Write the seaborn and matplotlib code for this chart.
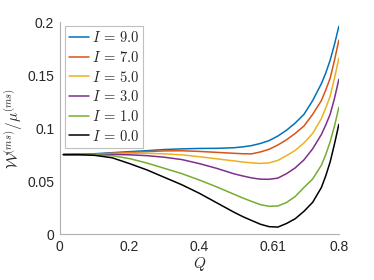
import numpy as np
import pandas as pd
import seaborn as sns
import matplotlib.pyplot as plt

# Q grid (denser near the minima and the steep end)
Q = [0.01, 0.05, 0.1, 0.15, 0.2, 0.25, 0.3, 0.35, 0.4, 0.45, 0.5, 0.525, 0.55, 0.575,
     0.6, 0.625, 0.65, 0.675, 0.7, 0.725, 0.75, 0.7625, 0.775, 0.7875, 0.8]

# W/mu values, one list per I
W_90 = [0.075, 0.0752, 0.0758, 0.0768, 0.0778, 0.0787, 0.0798, 0.0804, 0.0808, 0.0809,
        0.0815, 0.0823, 0.0835, 0.0855, 0.0882, 0.0925, 0.0980, 0.1048, 0.1130, 0.1260,
        0.1420, 0.1520, 0.1640, 0.1790, 0.196]
W_70 = [0.075, 0.0752, 0.0755, 0.0762, 0.0770, 0.0778, 0.0785, 0.0786, 0.0780, 0.0771,
        0.0762, 0.0758, 0.0757, 0.0775, 0.0800, 0.0840, 0.0890, 0.0950, 0.1020, 0.1130,
        0.1260, 0.1360, 0.1470, 0.1640, 0.183]
W_50 = [0.075, 0.0751, 0.0754, 0.0760, 0.0763, 0.0762, 0.0757, 0.0748, 0.0730, 0.0710,
        0.0690, 0.0680, 0.0672, 0.0667, 0.0672, 0.0695, 0.0740, 0.0790, 0.0860, 0.0950,
        0.1090, 0.1190, 0.1300, 0.1470, 0.166]
W_30 = [0.075, 0.0750, 0.0752, 0.0752, 0.0748, 0.0740, 0.0725, 0.0703, 0.0665, 0.0620,
        0.0568, 0.0548, 0.0530, 0.0518, 0.0517, 0.0528, 0.0570, 0.0625, 0.0700, 0.0805,
        0.0940, 0.1030, 0.1130, 0.1280, 0.146]
W_10 = [0.075, 0.0750, 0.0748, 0.0740, 0.0712, 0.0670, 0.0620, 0.0570, 0.0510, 0.0445,
        0.0375, 0.0340, 0.0308, 0.0278, 0.0262, 0.0265, 0.0298, 0.0355, 0.0440, 0.0520,
        0.0650, 0.0750, 0.0870, 0.1020, 0.1195]
W_00 = [0.075, 0.0750, 0.0743, 0.0720, 0.0665, 0.0605, 0.0535, 0.0465, 0.0385, 0.0295,
        0.0205, 0.0164, 0.0128, 0.0093, 0.0070, 0.0066, 0.0100, 0.0145, 0.0215, 0.0300,
        0.0440, 0.0550, 0.0680, 0.0850, 0.1035]

labels = [r'$I\,=\,9.0$', r'$I\,=\,7.0$', r'$I\,=\,5.0$', r'$I\,=\,3.0$',
          r'$I\,=\,1.0$', r'$I\,=\,0.0$']
series = [W_90, W_70, W_50, W_30, W_10, W_00]
colors = ['#0072BD', '#D95319', '#EDB120', '#7E2F8E', '#77AC30', '#000000']

xticks = [0, 0.2, 0.4, 0.61, 0.8]
xticklabels = ['0', '0.2', '0.4', '0.61', '0.8']
yticks = [0, 0.05, 0.1, 0.15, 0.2]
yticklabels = ['0', '0.05', '0.1', '0.15', '0.2']

df = pd.concat([pd.DataFrame({'Q': Q, 'W': w, 'I': lab}) for lab, w in zip(labels, series)],
               ignore_index=True)

sns.set_style('white')
plt.rcParams['font.family'] = ['Liberation Sans', 'DejaVu Sans']
plt.rcParams['mathtext.fontset'] = 'cm'

fig = plt.figure(figsize=(3.74, 2.8), dpi=100)
ax = fig.add_axes([0.160, 0.164, 0.746, 0.757])

sns.lineplot(data=df, x='Q', y='W', hue='I', hue_order=labels, palette=colors,
             linewidth=1.1, ax=ax, sort=False)

ax.set_xlim(0, 0.8)
ax.set_ylim(0, 0.2)
ax.set_xticks(xticks)
ax.set_xticklabels(xticklabels)
ax.set_yticks(yticks)
ax.set_yticklabels(yticklabels)

for s in ['top', 'right']:
    ax.spines[s].set_visible(False)
for s in ['left', 'bottom']:
    ax.spines[s].set_color('#b0b0b0')
    ax.spines[s].set_linewidth(0.8)
ax.tick_params(direction='in', length=3, width=0.6, color='#b0b0b0',
               labelcolor='#262626', labelsize=10, pad=4)

ax.set_xlabel('$Q$', fontsize=11, color='#262626', labelpad=1)
ax.set_ylabel(r'$\mathcal{W}^{(ms)}/\mu^{(ms)}$', fontsize=11, color='#262626', labelpad=2)

leg = ax.legend(loc='upper left', bbox_to_anchor=(0.018, 0.981), borderaxespad=0,
                fontsize=10.5, handlelength=1.4, handletextpad=0.15, labelspacing=0.32,
                borderpad=0.28, frameon=True, fancybox=False)
leg.get_frame().set_edgecolor('#b0b0b0')
leg.get_frame().set_linewidth(0.8)

fig.savefig('out.png', dpi=100)
